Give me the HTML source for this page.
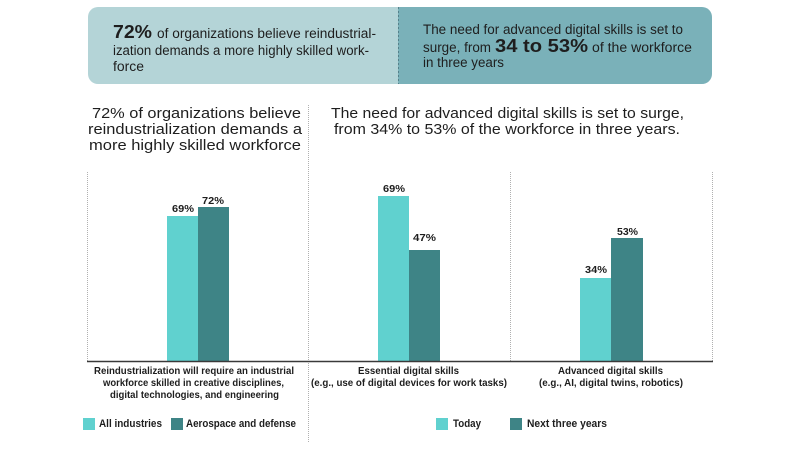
<!DOCTYPE html>
<html>
<head>
<meta charset="utf-8">
<style>
  html,body{margin:0;padding:0;background:#fff;}
  svg{display:block;}
  text{font-family:"Liberation Sans", sans-serif; fill:#1e1e1e;}
  .b{font-weight:bold;}
</style>
</head>
<body>
<svg width="800" height="449" viewBox="0 0 800 449" xmlns="http://www.w3.org/2000/svg">
  <defs>
    <clipPath id="box">
      <rect x="88" y="7" width="624" height="77" rx="10" ry="10"/>
    </clipPath>
  </defs>
  <!-- top banner -->
  <g clip-path="url(#box)">
    <rect x="88" y="7" width="310" height="77" fill="#b4d4d7"/>
    <rect x="398" y="7" width="314" height="77" fill="#7ab1b9"/>
  </g>
  <line x1="398.5" y1="7" x2="398.5" y2="84" stroke="#55808a" stroke-width="1" stroke-dasharray="2,2"/>

  <text class="b" x="113" y="38" font-size="18" textLength="39" lengthAdjust="spacingAndGlyphs">72%</text>
  <text x="157" y="38" font-size="13.5" textLength="219" lengthAdjust="spacingAndGlyphs">of organizations believe reindustrial-</text>
  <text x="113" y="55" font-size="13.5" textLength="256" lengthAdjust="spacingAndGlyphs">ization demands a more highly skilled work-</text>
  <text x="113" y="71" font-size="13.5" textLength="31" lengthAdjust="spacingAndGlyphs">force</text>

  <text x="423" y="34" font-size="13.5" textLength="260" lengthAdjust="spacingAndGlyphs">The need for advanced digital skills is set to</text>
  <text x="423" y="52" font-size="13.5" textLength="68" lengthAdjust="spacingAndGlyphs">surge, from</text>
  <text class="b" x="495" y="52" font-size="18" textLength="93" lengthAdjust="spacingAndGlyphs">34 to 53%</text>
  <text x="592" y="52" font-size="13.5" textLength="100" lengthAdjust="spacingAndGlyphs">of the workforce</text>
  <text x="423" y="67" font-size="13.5" textLength="81" lengthAdjust="spacingAndGlyphs">in three years</text>

  <!-- headings -->
  <text x="92" y="118" font-size="15" textLength="209" lengthAdjust="spacingAndGlyphs">72% of organizations believe</text>
  <text x="88" y="134" font-size="15" textLength="214" lengthAdjust="spacingAndGlyphs">reindustrialization demands a</text>
  <text x="89" y="150" font-size="15" textLength="212" lengthAdjust="spacingAndGlyphs">more highly skilled workforce</text>

  <text x="331" y="118" font-size="15" textLength="353" lengthAdjust="spacingAndGlyphs">The need for advanced digital skills is set to surge,</text>
  <text x="334" y="134" font-size="15" textLength="346" lengthAdjust="spacingAndGlyphs">from 34% to 53% of the workforce in three years.</text>

  <!-- dotted lines -->
  <g stroke="#b0b0b0" stroke-width="1" stroke-dasharray="1,1">
    <line x1="87.5" y1="172" x2="87.5" y2="361"/>
    <line x1="308.5" y1="105" x2="308.5" y2="443"/>
    <line x1="510.5" y1="172" x2="510.5" y2="361"/>
    <line x1="712.5" y1="172" x2="712.5" y2="361"/>
  </g>

  <!-- bars -->
  <rect x="167" y="216" width="31" height="145" fill="#60d1cf"/>
  <rect x="198" y="207" width="31" height="154" fill="#3e8486"/>
  <rect x="378" y="196" width="31" height="165" fill="#60d1cf"/>
  <rect x="409" y="250" width="31" height="111" fill="#3e8486"/>
  <rect x="580" y="278" width="31" height="83" fill="#60d1cf"/>
  <rect x="611" y="238" width="32" height="123" fill="#3e8486"/>

  <!-- axis -->
  <line x1="87" y1="361.5" x2="713" y2="361.5" stroke="#3a3a3a" stroke-width="1.5"/>

  <!-- value labels -->
  <text class="b" x="172" y="212" font-size="10.5" textLength="22" lengthAdjust="spacingAndGlyphs">69%</text>
  <text class="b" x="202" y="204" font-size="10.5" textLength="22" lengthAdjust="spacingAndGlyphs">72%</text>
  <text class="b" x="383" y="192" font-size="10.5" textLength="22" lengthAdjust="spacingAndGlyphs">69%</text>
  <text class="b" x="413" y="241" font-size="10.5" textLength="23" lengthAdjust="spacingAndGlyphs">47%</text>
  <text class="b" x="585" y="273" font-size="10.5" textLength="22" lengthAdjust="spacingAndGlyphs">34%</text>
  <text class="b" x="617" y="235" font-size="10.5" textLength="21" lengthAdjust="spacingAndGlyphs">53%</text>

  <!-- category labels -->
  <text class="b" x="94" y="374" font-size="10.5" textLength="200" lengthAdjust="spacingAndGlyphs">Reindustrialization will require an industrial</text>
  <text class="b" x="103" y="386" font-size="10.5" textLength="181" lengthAdjust="spacingAndGlyphs">workforce skilled in creative disciplines,</text>
  <text class="b" x="110" y="398" font-size="10.5" textLength="169" lengthAdjust="spacingAndGlyphs">digital technologies, and engineering</text>

  <text class="b" x="358" y="374" font-size="10.5" textLength="101" lengthAdjust="spacingAndGlyphs">Essential digital skills</text>
  <text class="b" x="311" y="386" font-size="10.5" textLength="196" lengthAdjust="spacingAndGlyphs">(e.g., use of digital devices for work tasks)</text>

  <text class="b" x="558" y="374" font-size="10.5" textLength="105" lengthAdjust="spacingAndGlyphs">Advanced digital skills</text>
  <text class="b" x="539" y="386" font-size="10.5" textLength="144" lengthAdjust="spacingAndGlyphs">(e.g., AI, digital twins, robotics)</text>

  <!-- legends -->
  <rect x="83" y="418" width="12" height="12" fill="#60d1cf"/>
  <text class="b" x="99" y="427" font-size="11" textLength="63" lengthAdjust="spacingAndGlyphs">All industries</text>
  <rect x="171" y="418" width="12" height="12" fill="#3e8486"/>
  <text class="b" x="186" y="427" font-size="11" textLength="110" lengthAdjust="spacingAndGlyphs">Aerospace and defense</text>

  <rect x="436" y="418" width="12" height="12" fill="#60d1cf"/>
  <text class="b" x="453" y="427" font-size="11" textLength="28" lengthAdjust="spacingAndGlyphs">Today</text>
  <rect x="510" y="418" width="12" height="12" fill="#3e8486"/>
  <text class="b" x="527" y="427" font-size="11" textLength="80" lengthAdjust="spacingAndGlyphs">Next three years</text>
</svg>
</body>
</html>
